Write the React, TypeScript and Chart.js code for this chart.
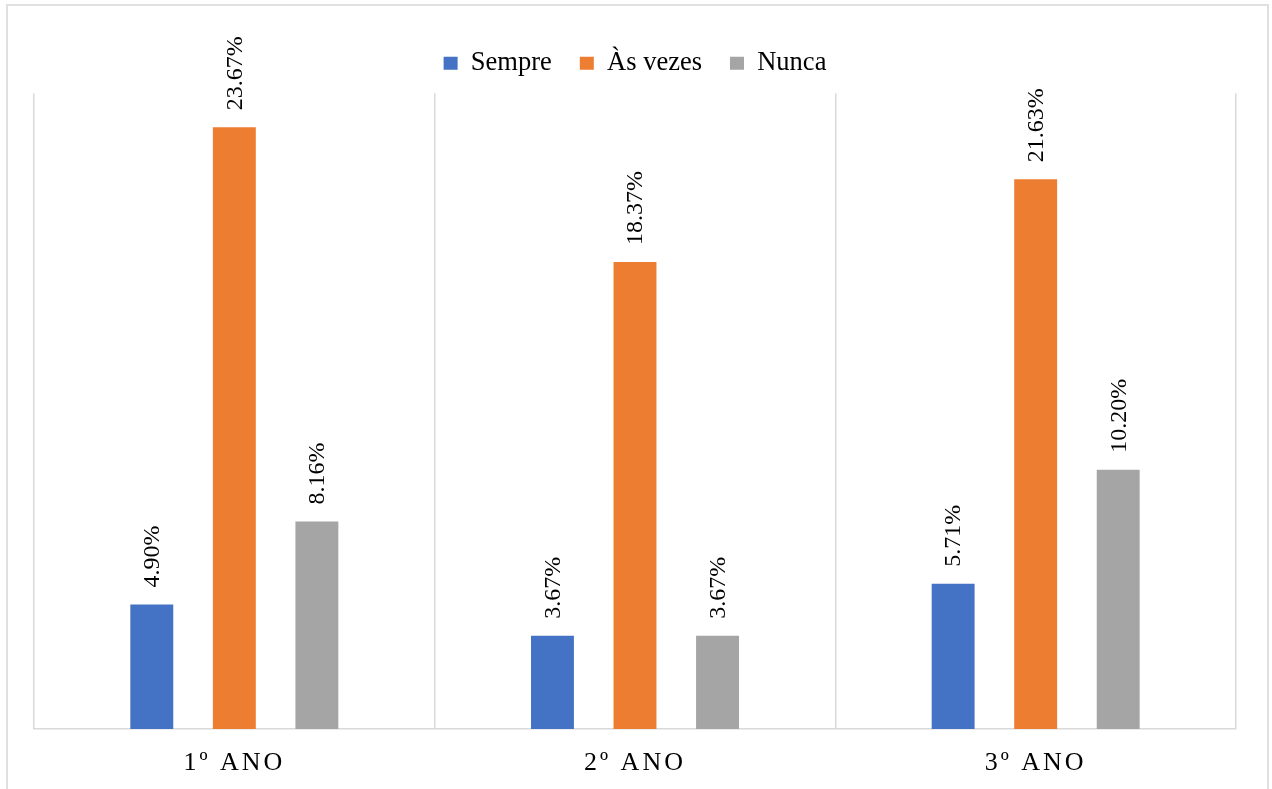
import React, { useEffect, useRef } from "react";
import { Chart, registerables } from "chart.js";

Chart.register(...registerables);

const categories = ["1º ANO", "2º ANO", "3º ANO"];
const seriesNames = ["Sempre", "Às vezes", "Nunca"];
const sempre = [4.9, 3.67, 5.71];
const asVezes = [23.67, 18.37, 21.63];
const nunca = [8.16, 3.67, 10.2];
const colors = ["#4472C4", "#ED7D31", "#A5A5A5"];

const FONT = "'Liberation Serif', 'Times New Roman', serif";

const valueLabels = {
  id: "valueLabels",
  afterDatasetsDraw(chart: any) {
    const ctx = chart.ctx;
    ctx.save();
    ctx.font = `24px ${FONT}`;
    ctx.fillStyle = "#000";
    ctx.textAlign = "left";
    ctx.textBaseline = "middle";
    chart.data.datasets.forEach((ds: any, di: number) => {
      const meta = chart.getDatasetMeta(di);
      meta.data.forEach((bar: any, i: number) => {
        const v = ds.data[i];
        ctx.save();
        ctx.translate(bar.x, bar.y - 17);
        ctx.rotate(-Math.PI / 2);
        ctx.fillText(v.toFixed(2) + "%", 0, 1);
        ctx.restore();
      });
    });
    ctx.restore();
  },
};

const spacedTicks = {
  id: "spacedTicks",
  beforeDraw(chart: any) {
    const sc = chart.scales.x;
    if (sc && !sc.__spaced) {
      const orig = sc.drawLabels.bind(sc);
      sc.drawLabels = (area: any) => {
        const ctx = chart.ctx;
        ctx.save();
        (ctx as any).letterSpacing = "3px";
        orig(area);
        ctx.restore();
      };
      sc.__spaced = true;
    }
  },
};

export default function App() {
  const ref = useRef<HTMLCanvasElement | null>(null);
  useEffect(() => {
    if (!ref.current) return;
    const chart = new Chart(ref.current, {
      type: "bar",
      data: {
        labels: categories,
        datasets: [
          { label: seriesNames[0], data: sempre, backgroundColor: colors[0] },
          { label: seriesNames[1], data: asVezes, backgroundColor: colors[1] },
          { label: seriesNames[2], data: nunca, backgroundColor: colors[2] },
        ],
      },
      options: {
        responsive: false,
        animation: false,
        datasets: {
          bar: { barPercentage: 0.52, categoryPercentage: 0.618 },
        },
        layout: { padding: { left: 26, right: 31, top: 16, bottom: 10 } },
        plugins: {
          tooltip: { enabled: false },
          legend: {
            position: "top",
            labels: {
              boxWidth: 14,
              boxHeight: 13,
              padding: 28,
              color: "#000",
              font: { family: FONT, size: 26.5 },
            },
          },
        },
        scales: {
          x: {
            grid: { display: true, color: "#d9d9d9", lineWidth: 1.5, drawTicks: false, offset: true },
            border: { display: true, color: "#d9d9d9", width: 1.5 },
            ticks: { color: "#000", padding: 19, font: { family: FONT, size: 26 } },
            afterFit: (s: any) => {
              s.height = 50;
            },
          },
          xTop: {
            type: "category",
            position: "top",
            display: true,
            grid: { display: false },
            border: { display: false },
            ticks: { display: false },
            afterFit: (s: any) => {
              s.height = 7;
            },
          },
          y: { display: false, min: 0, max: 25 },
        },
      },
      plugins: [valueLabels, spacedTicks],
    } as any);
    return () => chart.destroy();
  }, []);

  return (
    <div
      style={{
        position: "fixed",
        left: 6,
        top: 4,
        width: 1259,
        height: 800,
        border: "2px solid #e0e0e0",
        background: "#fff",
      }}
    >
      <canvas ref={ref} width={1259} height={783} style={{ display: "block" }} />
    </div>
  );
}
